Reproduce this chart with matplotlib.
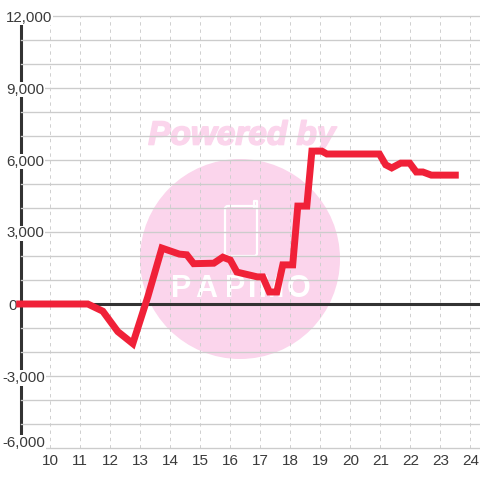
import matplotlib
matplotlib.use("Agg")
import matplotlib.pyplot as plt
import matplotlib.patheffects as pe
from matplotlib.patches import Ellipse, FancyBboxPatch
from matplotlib.lines import Line2D
from matplotlib.transforms import ScaledTranslation
from matplotlib.ticker import MultipleLocator

plt.rcParams['font.family'] = ['Liberation Sans', 'DejaVu Sans']

hours = [8.98, 11.25, 11.75, 12.25, 12.75, 13.25, 13.72, 14.3, 14.55, 14.78, 15.45, 15.75, 16.0,
         16.22, 16.9, 17.08, 17.3, 17.55, 17.75, 18.08, 18.25, 18.55, 18.72, 19.05, 19.22, 20.97,
         21.18, 21.38, 21.68, 21.98, 22.2, 22.42, 22.7, 23.5]
values = [0, 0, -300, -1150, -1650, 300, 2330, 2080, 2050, 1680, 1700, 1950, 1830,
          1330, 1130, 1130, 500, 500, 1630, 1630, 4080, 4080, 6370, 6370, 6250, 6250,
          5800, 5670, 5870, 5870, 5500, 5500, 5370, 5370]
x_ticks = list(range(10, 25))
y_major = [-6000, -3000, 0, 3000, 6000, 9000, 12000]
y_labels = ['-6,000', '-3,000', '0', '3,000', '6,000', '9,000', '12,000']
brand_letters = ['P', 'A', 'P', 'I', 'M', 'O']

W = 480
PINK = '#fbd5ec'
fig = plt.figure(figsize=(4.8, 4.8), dpi=100, facecolor='white')
ax = fig.add_axes([20.5/W, 32/W, 459.5/W, 432/W])
ax.patch.set_visible(False)
ax.set_xlim(10 - 29.8/30, 10 + 429.7/30)
ax.set_ylim(-6000, 12000)

# watermark
def fx(p): return p / W
def fy(p): return 1 - p / W
fig.add_artist(Ellipse((fx(240), fy(259)), 200/W, 200/W, transform=fig.transFigure,
                       facecolor=PINK, edgecolor='none', zorder=-5))
fig.text(fx(242), fy(136), 'Powered by', color=PINK, fontsize=24, fontweight='bold', style='italic',
         ha='center', va='center', zorder=-5,
         path_effects=[pe.withStroke(linewidth=1.2, foreground=PINK)])
fig.add_artist(FancyBboxPatch((fx(225), fy(256)), 32/W, 50/W, boxstyle='round,pad=0,rounding_size=0.006',
                              transform=fig.transFigure, facecolor='none', edgecolor='white', lw=1.6, zorder=-4))
fig.add_artist(Line2D([fx(254), fx(254), fx(257), fx(257)], [fy(208), fy(201), fy(201), fy(208)],
                      transform=fig.transFigure, color='white', lw=1.6, zorder=-4))
for c, letter in zip([181, 206, 235, 252, 272, 299], brand_letters):
    fig.text(fx(c), fy(289), letter, color='white', fontsize=22, fontweight='bold',
             ha='center', va='center', zorder=-4)

for s in ['top', 'right', 'bottom']:
    ax.spines[s].set_visible(False)
ax.spines['left'].set_color('#333333')
ax.spines['left'].set_linewidth(2.2)
ax.spines['left'].set_zorder(1.2)

ax.set_xticks(x_ticks)
ax.yaxis.set_major_locator(MultipleLocator(3000))
ax.yaxis.set_minor_locator(MultipleLocator(1000))
ax.set_yticks(y_major, y_labels)
ax.tick_params(axis='both', which='both', length=0)
ax.tick_params(axis='x', pad=4.5, labelsize=11, labelcolor='#3a3a3a')
ax.tick_params(axis='y', pad=0, labelsize=10.8, labelcolor='#3a3a3a')
ax.xaxis.grid(True, color='#cfcfcf', lw=0.7, ls=(0, (3.5, 4)))
ax.yaxis.grid(True, which='both', color='#cccccc', lw=0.95)
ax.set_axisbelow('line')
for t in ax.yaxis.get_major_ticks() + ax.yaxis.get_minor_ticks():
    t.gridline.set_clip_on(False)

offs = {'-6,000': (-18.5, 6.5), '-3,000': (-18.5, -0.5)}
for lab in ax.get_yticklabels():
    s = lab.get_text()
    dx, dy = offs.get(s, (-14.5, 0))
    if s == '0':
        dx = -12.5
    lab.set_ha('left')
    lab.set_transform(lab.get_transform() + ScaledTranslation(dx/100, dy/100, fig.dpi_scale_trans))
    lab.set_bbox(dict(facecolor='white', edgecolor='none', pad=0.6))

ax.axhline(0, color='#333333', lw=2.2, zorder=1.8)
ax.plot(hours, values, color='#f02138', lw=5.0, solid_capstyle='projecting', solid_joinstyle='miter',
        clip_on=False, zorder=3)

fig.savefig('out.png', dpi=100, facecolor='white')
